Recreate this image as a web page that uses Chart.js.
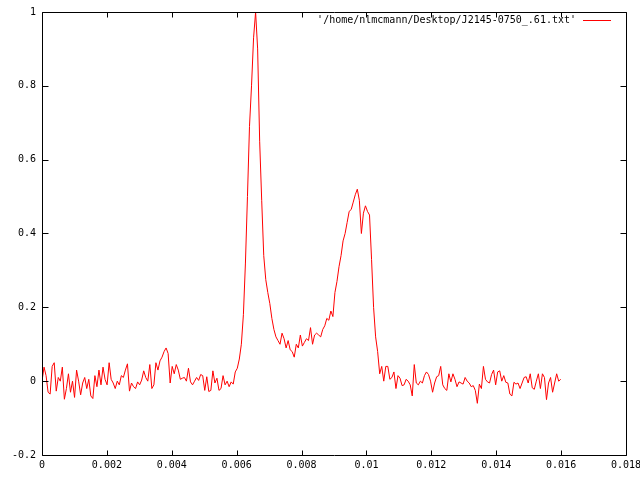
<!DOCTYPE html>
<html><head><meta charset="utf-8">
<script src="https://cdn.jsdelivr.net/npm/chart.js@4/dist/chart.umd.min.js"></script>
<style>html,body{margin:0;padding:0;background:#fff}canvas{display:block}</style>
</head><body>
<canvas id="c" width="640" height="480"></canvas>
<script>
const seriesLabel = "'/home/nlmcmann/Desktop/J2145-0750_.61.txt'";
const phaseStep = 0.0000627;
const intensity = [
 0.0, 0.038, 0.015, -0.03, -0.035, 0.04, 0.05, -0.027, 0.01, 0.0, 0.038, -0.049, -0.02, 0.02, -0.03, 0.0,
 -0.044, 0.03, 0.0, -0.037, -0.005, 0.01, -0.02, 0.005, -0.04, -0.047, 0.015, -0.015, 0.03, -0.01, 0.038, 0.005,
 -0.01, 0.05, 0.005, -0.005, -0.02, 0.0, -0.01, 0.015, 0.01, 0.03, 0.047, -0.027, -0.005, -0.015, -0.02, -0.002,
 -0.01, 0.003, 0.028, 0.01, 0.0, 0.045, -0.02, -0.01, 0.05, 0.03, 0.055, 0.065, 0.08, 0.09, 0.075, -0.005,
 0.04, 0.02, 0.045, 0.03, 0.005, 0.008, 0.01, 0.0, 0.035, -0.002, -0.01, 0.0, 0.01, 0.002, 0.018, 0.015,
 -0.025, 0.012, -0.028, -0.025, 0.028, -0.005, 0.008, -0.025, -0.02, 0.015, -0.01, 0.0, -0.015, -0.002, -0.008, 0.025,
 0.035, 0.06, 0.1, 0.18, 0.32, 0.5, 0.69, 0.8, 0.93, 1.0, 0.9, 0.65, 0.49, 0.34, 0.275, 0.24,
 0.21, 0.17, 0.14, 0.12, 0.11, 0.1, 0.13, 0.115, 0.09, 0.11, 0.085, 0.08, 0.065, 0.1, 0.09, 0.125,
 0.095, 0.105, 0.115, 0.11, 0.145, 0.1, 0.125, 0.13, 0.125, 0.12, 0.14, 0.15, 0.17, 0.165, 0.19, 0.175,
 0.24, 0.27, 0.31, 0.34, 0.38, 0.4, 0.43, 0.46, 0.465, 0.485, 0.505, 0.52, 0.49, 0.4, 0.455, 0.475,
 0.46, 0.45, 0.33, 0.2, 0.12, 0.08, 0.02, 0.04, 0.0, 0.04, 0.04, 0.005, 0.01, 0.025, -0.02, 0.015,
 0.008, -0.012, -0.01, 0.005, 0.0, -0.01, -0.04, 0.045, -0.005, -0.01, 0.0, -0.005, 0.015, 0.025, 0.018, 0.0,
 -0.03, -0.005, 0.012, 0.015, 0.04, -0.01, -0.02, -0.025, 0.02, -0.002, 0.02, 0.005, -0.015, -0.002, -0.005, -0.008,
 0.01, 0.0, -0.005, -0.015, -0.012, -0.025, -0.06, -0.008, -0.02, 0.04, 0.005, -0.002, -0.005, 0.018, 0.03, -0.01,
 0.025, 0.028, 0.0, 0.015, -0.003, -0.005, -0.035, -0.04, -0.003, -0.008, -0.005, -0.02, -0.005, 0.01, 0.012, -0.005,
 0.02, -0.018, -0.022, 0.0, 0.02, -0.02, 0.02, 0.01, -0.05, -0.005, 0.01, -0.03, -0.005, 0.02, 0.0, 0.005
];
const xTicks = [0, 0.002, 0.004, 0.006, 0.008, 0.01, 0.012, 0.014, 0.016, 0.018];
const yTicks = [-0.2, 0, 0.2, 0.4, 0.6, 0.8, 1];

const FONT = "'DejaVu Sans Mono', 'Liberation Mono', monospace";
const fmt = v => String(parseFloat(Number(v).toFixed(6)));

const framePlugin = {
  id: 'frame',
  afterDatasetsDraw(chart) {
    const { ctx, chartArea: a, scales: { x, y } } = chart;
    ctx.save();
    ctx.strokeStyle = '#000';
    ctx.lineWidth = 1;
    const L = Math.round(a.left) + 0.5, R = Math.round(a.right) + 0.5;
    const T = Math.round(a.top) + 0.5, B = Math.round(a.bottom) + 0.5;
    ctx.beginPath();
    ctx.rect(L, T, R - L, B - T);
    x.ticks.forEach(t => {
      const p = Math.round(x.getPixelForValue(t.value)) + 0.5;
      ctx.moveTo(p, B); ctx.lineTo(p, B - 5);
      ctx.moveTo(p, T); ctx.lineTo(p, T + 5);
    });
    y.ticks.forEach(t => {
      const p = Math.round(y.getPixelForValue(t.value)) + 0.5;
      ctx.moveTo(L, p); ctx.lineTo(L + 6, p);
      ctx.moveTo(R, p); ctx.lineTo(R - 6, p);
    });
    ctx.stroke();
    // legend (gnuplot style: text then line sample)
    const ds = chart.data.datasets[0];
    ctx.font = '10px ' + FONT;
    ctx.fillStyle = '#000';
    ctx.textAlign = 'right';
    ctx.textBaseline = 'middle';
    ctx.fillText(ds.label, 576, 20);
    ctx.strokeStyle = ds.borderColor;
    ctx.beginPath();
    ctx.moveTo(583, 20.5); ctx.lineTo(611, 20.5);
    ctx.stroke();
    ctx.restore();
  }
};

new Chart(document.getElementById('c'), {
  type: 'line',
  data: {
    datasets: [{
      label: seriesLabel,
      data: intensity.map((v, i) => ({ x: i * phaseStep, y: v })),
      borderColor: 'rgb(255,0,0)',
      borderWidth: 1,
      pointRadius: 0,
      tension: 0,
      fill: false
    }]
  },
  options: {
    responsive: false,
    animation: false,
    devicePixelRatio: 1,
    layout: { padding: { top: 12, right: 14, left: 0, bottom: 0 } },
    plugins: { legend: { display: false }, tooltip: { enabled: false } },
    scales: {
      x: {
        type: 'linear', min: 0, max: 0.018,
        afterBuildTicks: s => { s.ticks = xTicks.map(v => ({ value: v })); },
        afterFit: s => { s.height = 25; s.paddingLeft = 0; s.paddingRight = 0; },
        grid: { display: false, drawTicks: false },
        border: { display: false },
        ticks: { color: '#000', font: { family: FONT, size: 10 }, padding: 4, maxRotation: 0, autoSkip: false, callback: v => fmt(v) }
      },
      y: {
        type: 'linear', min: -0.2, max: 1,
        afterBuildTicks: s => { s.ticks = yTicks.map(v => ({ value: v })); },
        afterFit: s => { s.width = 42; s.paddingTop = 0; s.paddingBottom = 0; },
        grid: { display: false, drawTicks: false },
        border: { display: false },
        ticks: { color: '#000', font: { family: FONT, size: 10 }, padding: 6, autoSkip: false, callback: v => fmt(v) }
      }
    }
  },
  plugins: [framePlugin]
});
</script>
</body></html>
